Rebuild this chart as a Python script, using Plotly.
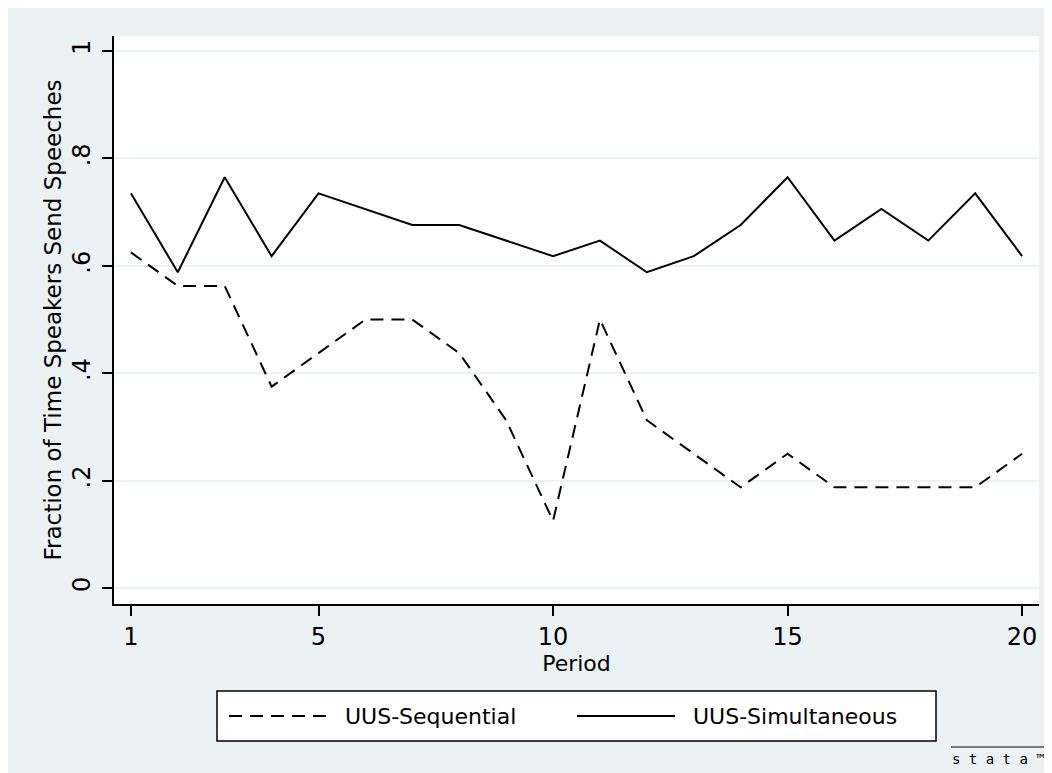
import plotly.graph_objects as go

period = list(range(1, 21))
uus_sequential = [0.625, 0.5625, 0.5625, 0.375, 0.4375, 0.5, 0.5, 0.4375, 0.3125, 0.125,
                  0.5, 0.3125, 0.25, 0.1875, 0.25, 0.1875, 0.1875, 0.1875, 0.1875, 0.25]
uus_simultaneous = [0.735, 0.588, 0.765, 0.618, 0.735, 0.706, 0.676, 0.676, 0.647, 0.618,
                    0.647, 0.588, 0.618, 0.676, 0.765, 0.647, 0.706, 0.647, 0.735, 0.618]
y_ticks = [0, 0.2, 0.4, 0.6, 0.8, 1]
y_tick_labels = ["0", ".2", ".4", ".6", ".8", "1"]
x_ticks = [1, 5, 10, 15, 20]

BG = "#EAF2F3"
FONT = "DejaVu Sans"
W, H = 1044, 765
ML, MR, MT, MB = 106, 13, 28, 169
PW, PH = W - ML - MR, H - MT - MB

def px(x):  # page x -> paper
    return (x - 8 - ML) / PW

def py(y):  # page y -> paper
    return (H - MB - (y - 8)) / PH

fig = go.Figure()
fig.add_trace(go.Scatter(x=period, y=uus_sequential, mode="lines", name="UUS-Sequential",
                         line=dict(color="black", width=2, dash="13px,8px")))
fig.add_trace(go.Scatter(x=period, y=uus_simultaneous, mode="lines", name="UUS-Simultaneous",
                         line=dict(color="black", width=2)))

shapes = [
    # legend box
    dict(type="rect", xref="paper", yref="paper", x0=px(217), x1=px(936), y0=py(741), y1=py(691),
         line=dict(color="black", width=1.5), fillcolor="white", layer="above"),
    dict(type="line", xref="paper", yref="paper", x0=px(229), x1=px(328), y0=py(716), y1=py(716),
         line=dict(color="black", width=2, dash="13px,8px")),
    dict(type="line", xref="paper", yref="paper", x0=px(577), x1=px(675), y0=py(716), y1=py(716),
         line=dict(color="black", width=2)),
    # stata logo overline
    dict(type="line", xref="paper", yref="paper", x0=px(951), x1=px(1050), y0=py(747), y1=py(747),
         line=dict(color="black", width=1)),
]
annotations = [
    dict(text="UUS-Sequential", xref="paper", yref="paper", x=px(343), y=py(716),
         xanchor="left", yanchor="middle", showarrow=False, font=dict(size=22, color="black", family=FONT)),
    dict(text="UUS-Simultaneous", xref="paper", yref="paper", x=px(691), y=py(716),
         xanchor="left", yanchor="middle", showarrow=False, font=dict(size=22, color="black", family=FONT)),
    dict(text="s t a t a ™", xref="paper", yref="paper", x=px(950), y=py(759),
         xanchor="left", yanchor="middle", showarrow=False,
         font=dict(size=14, color="black", family="DejaVu Sans Mono")),
]

fig.update_layout(
    width=W, height=H,
    margin=dict(l=ML, r=MR, t=MT, b=MB),
    paper_bgcolor=BG, plot_bgcolor="white",
    showlegend=False,
    font=dict(family=FONT, size=22, color="black"),
    shapes=shapes, annotations=annotations,
    xaxis=dict(range=[0.64, 20.36], tickvals=x_ticks, ticks="outside", ticklen=10, tickwidth=1.5,
               tickcolor="black", showline=True, linecolor="black", linewidth=1.5, showgrid=False,
               zeroline=False, title=dict(text="Period", standoff=0, font=dict(size=22)),
               tickfont=dict(size=24)),
    yaxis=dict(range=[-0.0298, 1.028], tickvals=y_ticks, ticktext=y_tick_labels, tickangle=-90,
               ticks="outside", ticklen=10, tickwidth=1.5, tickcolor="black", showline=True,
               linecolor="black", linewidth=1.5, showgrid=True, gridcolor=BG, gridwidth=1.5,
               zeroline=False, ticklabelstandoff=3,
               title=dict(text="Fraction of Time Speakers Send Speeches", standoff=0, font=dict(size=23)),
               tickfont=dict(size=24)),
)
fig.write_html("out.html")
